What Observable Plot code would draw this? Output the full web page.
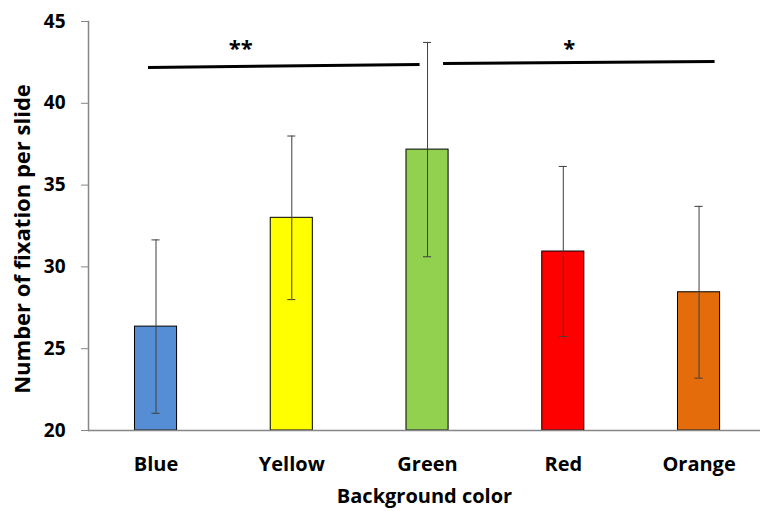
<!DOCTYPE html>
<html>
<head>
<meta charset="utf-8">
<script src="https://cdn.jsdelivr.net/npm/d3@7"></script>
<script src="https://cdn.jsdelivr.net/npm/@observablehq/plot@0.6"></script>
<style>
  body { margin: 0; background: #fff; }
</style>
</head>
<body>
<div id="chart"></div>
<script>
const categories = ["Blue", "Yellow", "Green", "Red", "Orange"];
const means = [26.35, 33.0, 37.17, 30.94, 28.45];
const sds = [5.3, 5.0, 6.55, 5.2, 5.25];
const barColors = ["#558ED5", "#FFFF00", "#92D050", "#FF0000", "#E46C0A"];
const yTicks = [20, 25, 30, 35, 40, 45];
const sigFrom = ["Blue", "Green"];
const sigTo = ["Green", "Orange"];
const sigYStart = [42.19, 42.43];
const sigYEnd = [42.37, 42.55];
const sigLabels = ["**", "*"];
const sigLabelY = [43.3, 43.3];

const data = categories.map((c, i) => ({color: c, mean: means[i], sd: sds[i], fill: barColors[i]}));
const sig = sigLabels.map((l, i) => ({from: sigFrom[i], to: sigTo[i], y1: sigYStart[i], y2: sigYEnd[i], label: l, ly: sigLabelY[i]}));

const axisGray = "#868686";
const errColor = "#3f3f3f";
const font = "'Open Sans', Lato, sans-serif";

const chart = Plot.plot({
  width: 760,
  height: 511,
  marginLeft: 88,
  marginRight: 0,
  marginTop: 21,
  marginBottom: 81,
  style: {fontFamily: font, background: "#fff"},
  x: {type: "band", domain: categories, paddingInner: 0.69, paddingOuter: 0.32, align: 0.535, round: false, axis: null},
  y: {domain: [20, 45], axis: null},
  marks: [
    Plot.barY(data, {x: "color", y1: 20, y2: "mean", fill: "fill", stroke: "#000", strokeWidth: 1}),
    Plot.ruleX(data, {x: "color", y1: d => d.mean - d.sd, y2: d => d.mean + d.sd, stroke: errColor, strokeWidth: 1}),
    Plot.tickY(data, {x: "color", y: d => d.mean + d.sd, stroke: errColor, strokeWidth: 1, insetLeft: 17, insetRight: 17}),
    Plot.tickY(data, {x: "color", y: d => d.mean - d.sd, stroke: errColor, strokeWidth: 1, insetLeft: 17, insetRight: 17}),
    Plot.ruleY([20], {stroke: axisGray, strokeWidth: 1.5}),
    Plot.frame({anchor: "left", stroke: axisGray, strokeWidth: 1.5}),
    Plot.axisY({ticks: yTicks, tickSize: 7, tickPadding: 16, stroke: axisGray, fontSize: 19, fontWeight: "bold", fill: "#000", label: null}),
    Plot.text(categories, {x: d => d, y: 20, dy: 34, fontSize: 20, fontWeight: "bold", fill: "#000"}),
    Plot.text(["Background color"], {frameAnchor: "bottom", dy: 72, fontSize: 20, fontWeight: "bold", fill: "#000"}),
    Plot.text(["Number of fixation per slide"], {frameAnchor: "left", textAnchor: "middle", dx: -66, dy: 13, rotate: -90, fontSize: 22, fontWeight: "bold", fill: "#000"}),
    Plot.link(sig.filter(d => d.from === "Blue"), {x1: "from", x2: "to", y1: "y1", y2: "y2", dx: -8, stroke: "#000", strokeWidth: 3}),
    Plot.link(sig.filter(d => d.from === "Green"), {x1: "from", x2: "to", y1: "y1", y2: "y2", dx: 15.5, stroke: "#000", strokeWidth: 3}),
    Plot.text(sig.filter(d => d.label === "**"), {x: () => "Yellow", y: "ly", text: "label", dx: -51, fontSize: 22, fontWeight: "bold", fill: "#000"}),
    Plot.text(sig.filter(d => d.label === "*"), {x: () => "Red", y: "ly", text: "label", dx: 6, fontSize: 22, fontWeight: "bold", fill: "#000"})
  ]
});
document.getElementById("chart").appendChild(chart);
</script>
</body>
</html>
